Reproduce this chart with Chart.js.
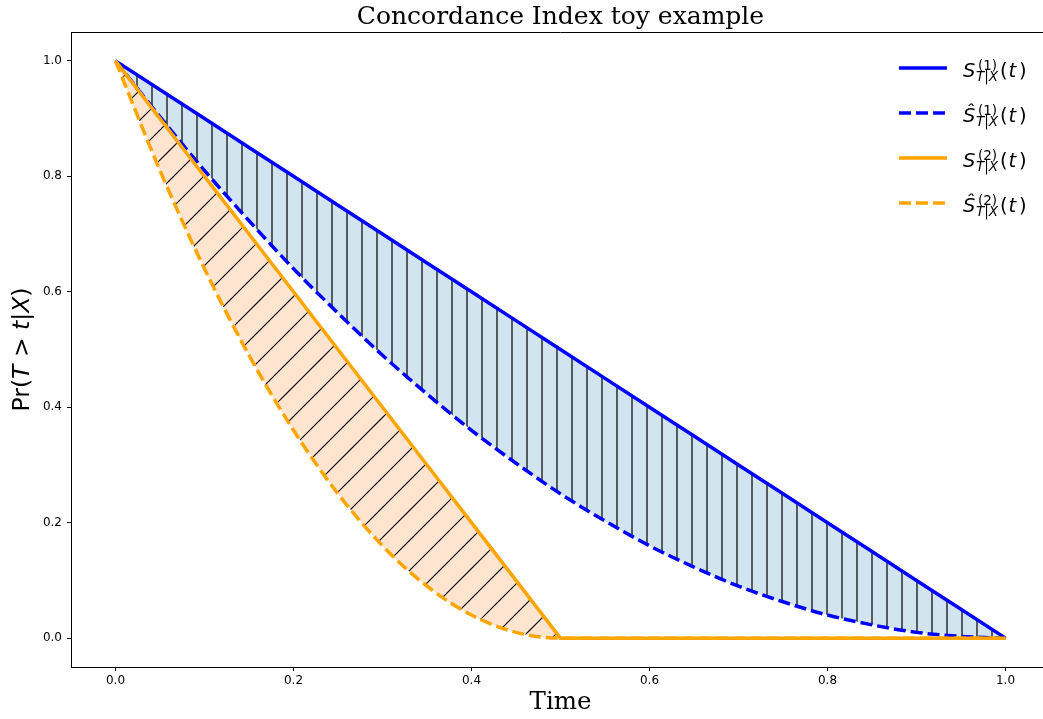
<!DOCTYPE html>
<html>
<head>
<meta charset="utf-8">
<script src="https://cdn.jsdelivr.net/npm/chart.js@4.4.1/dist/chart.umd.min.js"></script>
<style>
  html, body { margin: 0; padding: 0; background: #fff; overflow: hidden; }
  #wrap { width: 1043px; height: 719px; overflow: hidden; }
</style>
</head>
<body>
<div id="wrap"><canvas id="cindex" width="1060" height="719"></canvas></div>
<script>
// survival curves sampled on a common time grid
var times      = [0, 0.05, 0.1, 0.15, 0.2, 0.25, 0.3, 0.35, 0.4, 0.45, 0.5, 0.55, 0.6, 0.65, 0.7, 0.75, 0.8, 0.85, 0.9, 0.95, 1.0];
var trueSurv1  = [1, 0.95, 0.9, 0.85, 0.8, 0.75, 0.7, 0.65, 0.6, 0.55, 0.5, 0.45, 0.4, 0.35, 0.3, 0.25, 0.2, 0.15, 0.1, 0.05, 0];
var predSurv1  = [1, 0.903, 0.81, 0.723, 0.64, 0.563, 0.49, 0.423, 0.36, 0.303, 0.25, 0.203, 0.16, 0.123, 0.09, 0.063, 0.04, 0.023, 0.01, 0.003, 0];
var trueSurv2  = [1, 0.9, 0.8, 0.7, 0.6, 0.5, 0.4, 0.3, 0.2, 0.1, 0, 0, 0, 0, 0, 0, 0, 0, 0, 0, 0];
var predSurv2  = [1, 0.81, 0.64, 0.49, 0.36, 0.25, 0.16, 0.09, 0.04, 0.01, 0, 0, 0, 0, 0, 0, 0, 0, 0, 0, 0];

var seriesSup  = ['(1)', '(1)', '(2)', '(2)'];
var seriesHat  = [false, true, false, true];

var BLUE = '#0000ff';
var ORANGE = '#ffa500';

function toPoints(ys) {
  return times.map(function (t, i) { return { x: t, y: ys[i] }; });
}

// hatch fills: '|' for the blue band, '/' for the orange one
function hatch(bg, kind) {
  var n = kind === '|' ? 15 : 30;
  var c = document.createElement('canvas');
  c.width = n; c.height = n;
  var g = c.getContext('2d');
  g.fillStyle = bg;
  g.fillRect(0, 0, n, n);
  g.strokeStyle = '#000';
  g.lineWidth = 1.2;
  g.beginPath();
  if (kind === '|') {
    g.moveTo(2, 0); g.lineTo(2, n);
  } else {
    [20, 50].forEach(function (c0) {
      g.moveTo(c0 + 5, -5); g.lineTo(c0 - n - 5, n + 5);
    });
  }
  g.stroke();
  return g.createPattern(c, 'repeat');
}

var ctx = document.getElementById('cindex').getContext('2d');

Chart.defaults.color = '#000';
Chart.defaults.font.family = '"DejaVu Sans", sans-serif';

function mathLabel(c, x0, base, hat, sup) {
  c.fillStyle = '#000';
  c.textAlign = 'left';
  c.textBaseline = 'alphabetic';
  c.font = 'italic 19.5px "DejaVu Sans"';
  c.fillText(hat ? '\u015C' : 'S', x0, base);
  c.font = '13.5px "DejaVu Sans"';
  c.fillText(sup, x0 + 15, base - 7);
  var xs = x0 + 13;
  c.font = 'italic 13.5px "DejaVu Sans"';
  c.fillText('T', xs, base + 4);
  xs += c.measureText('T').width;
  c.font = '13.5px "DejaVu Sans"';
  c.fillText('|', xs, base + 4);
  xs += c.measureText('|').width;
  c.font = 'italic 13.5px "DejaVu Sans"';
  c.fillText('X', xs, base + 4);
  c.font = '19.5px "DejaVu Sans"';
  c.fillText('(', x0 + 37, base);
  c.font = 'italic 19.5px "DejaVu Sans"';
  c.fillText('t', x0 + 45.5, base);
  c.font = '19.5px "DejaVu Sans"';
  c.fillText(')', x0 + 56, base);
}

var decorations = {
  id: 'decorations',
  afterDraw: function (chart) {
    var c = chart.ctx, a = chart.chartArea;
    c.save();

    // top spine
    c.strokeStyle = '#000';
    c.lineWidth = 1;
    c.beginPath();
    c.moveTo(a.left, a.top + 0.5);
    c.lineTo(a.right, a.top + 0.5);
    c.stroke();

    // title
    c.fillStyle = '#000';
    c.font = '25px "DejaVu Serif"';
    c.textAlign = 'center';
    c.textBaseline = 'middle';
    c.fillText('Concordance Index toy example', (a.left + a.right) / 2, 17);

    // y axis title with italic variables
    var parts = [['Pr(', 0], ['T', 1], [' > ', 0], ['t', 1], ['|', 0], ['X', 1], [')', 0]];
    var fs = 23.5, total = 0;
    parts.forEach(function (p) {
      c.font = (p[1] ? 'italic ' : '') + fs + 'px "DejaVu Sans"';
      p.push(c.measureText(p[0]).width);
      total += p[2];
    });
    c.translate(23, (a.top + a.bottom) / 2);
    c.rotate(-Math.PI / 2);
    c.textAlign = 'left';
    c.textBaseline = 'middle';
    var x = -total / 2;
    parts.forEach(function (p) {
      c.font = (p[1] ? 'italic ' : '') + fs + 'px "DejaVu Sans"';
      c.fillText(p[0], x, 0);
      x += p[2];
    });
    c.setTransform(1, 0, 0, 1, 0, 0);

    // legend
    var rows = [68, 113, 158, 203];
    chart.data.datasets.forEach(function (ds, i) {
      var y = rows[i];
      c.strokeStyle = ds.borderColor;
      c.lineWidth = ds.borderWidth;
      c.setLineDash(ds.borderDash || []);
      c.beginPath();
      c.moveTo(899, y);
      c.lineTo(947, y);
      c.stroke();
      c.setLineDash([]);
      mathLabel(c, 963, y + 9, seriesHat[i], seriesSup[i]);
    });
    c.restore();
  }
};

var chart = new Chart(ctx, {
  type: 'line',
  data: {
    datasets: [
      {
        label: 'S1',
        data: toPoints(trueSurv1),
        borderColor: BLUE,
        borderWidth: 3.5,
        pointRadius: 0,
        fill: false,
        order: 4
      },
      {
        label: 'S1 hat',
        data: toPoints(predSurv1),
        borderColor: BLUE,
        borderWidth: 3.5,
        borderDash: [12, 5],
        pointRadius: 0,
        cubicInterpolationMode: 'monotone',
        fill: { target: 0 },
        backgroundColor: hatch('#d2e4f0', '|'),
        order: 3
      },
      {
        label: 'S2',
        data: toPoints(trueSurv2),
        borderColor: ORANGE,
        borderWidth: 3.5,
        pointRadius: 0,
        fill: false,
        order: 2
      },
      {
        label: 'S2 hat',
        data: toPoints(predSurv2),
        borderColor: ORANGE,
        borderWidth: 3.5,
        borderDash: [12, 5],
        pointRadius: 0,
        cubicInterpolationMode: 'monotone',
        fill: { target: 2 },
        backgroundColor: hatch('#ffe5cf', '/'),
        order: 1
      }
    ]
  },
  options: {
    responsive: false,
    animation: false,
    layout: { padding: { top: 32, left: 0, right: 10, bottom: 0 } },
    plugins: {
      legend: { display: false },
      tooltip: { enabled: false },
      filler: { drawTime: 'beforeDatasetsDraw' }
    },
    scales: {
      x: {
        type: 'linear',
        min: -0.05,
        max: 1.05,
        afterFit: function (s) { s.height = 52; },
        ticks: {
          stepSize: 0.2,
          includeBounds: false,
          padding: 3,
          maxRotation: 0,
          font: { size: 12 },
          callback: function (v) { return v.toFixed(1); }
        },
        grid: { drawOnChartArea: false, tickLength: 4, color: '#000' },
        border: { color: '#000', width: 1 },
        title: {
          display: true,
          text: 'Time',
          font: { family: '"DejaVu Serif"', size: 24.5 },
          padding: { top: 0, bottom: 2 }
        }
      },
      y: {
        min: -0.05,
        max: 1.05,
        afterFit: function (s) { s.width = 71; },
        ticks: {
          stepSize: 0.2,
          includeBounds: false,
          padding: 5,
          font: { size: 12 },
          callback: function (v) { return v.toFixed(1); }
        },
        grid: { drawOnChartArea: false, tickLength: 4, color: '#000' },
        border: { color: '#000', width: 1 }
      }
    }
  },
  plugins: [decorations]
});
</script>
</body>
</html>
